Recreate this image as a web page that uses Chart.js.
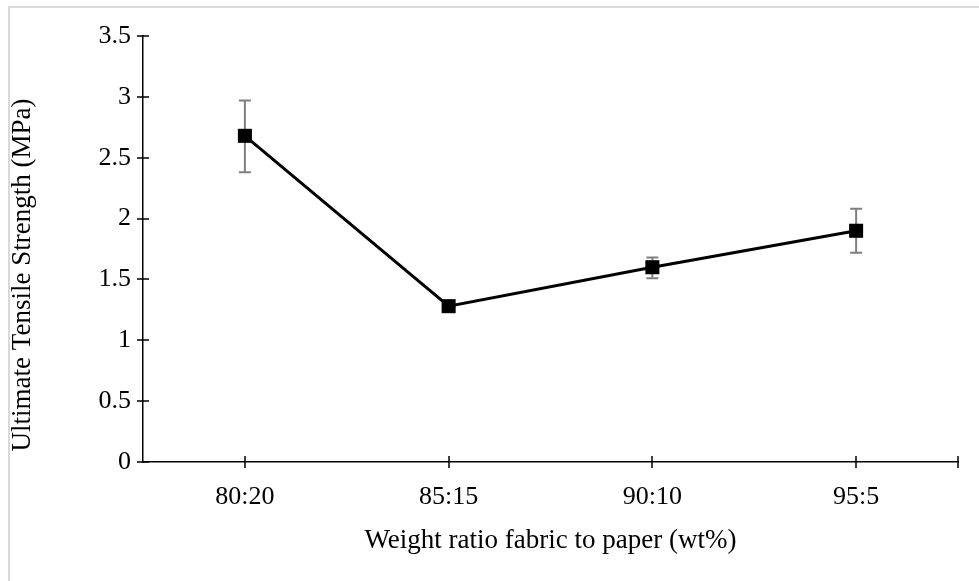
<!DOCTYPE html>
<html>
<head>
<meta charset="utf-8">
<script src="https://cdn.jsdelivr.net/npm/chart.js@4.4.1/dist/chart.umd.min.js"></script>
<style>
  html, body { margin: 0; padding: 0; background: #fff; }
  #wrap { position: relative; width: 979px; height: 581px; }
</style>
</head>
<body>
<div id="wrap"><canvas id="chart" width="979" height="581"></canvas></div>
<script>
const ratios = ['80:20', '85:15', '90:10', '95:5'];
const strength = [2.68, 1.28, 1.60, 1.90];
const errLow = [2.38, 1.26, 1.51, 1.72];
const errHigh = [2.97, 1.30, 1.68, 2.08];
const yTicks = [0, 0.5, 1, 1.5, 2, 2.5, 3, 3.5];
const yTitle = 'Ultimate Tensile Strength (MPa)';

const FONT = 'Liberation Serif, Times New Roman, serif';

// frame, error bars, y title and crossing tick marks like the excel original
const extras = {
  id: 'extras',
  beforeDraw(chart) {
    const ctx = chart.ctx;
    ctx.save();
    ctx.strokeStyle = '#d9d9d9';
    ctx.lineWidth = 2;
    ctx.beginPath();
    ctx.moveTo(9, 600);
    ctx.lineTo(9, 7);
    ctx.lineTo(1000, 7);
    ctx.stroke();
    ctx.restore();
  },
  afterDatasetsDraw(chart) {
    const ctx = chart.ctx;
    const x = chart.scales.x, y = chart.scales.y;
    ctx.save();
    ctx.strokeStyle = '#7f7f7f';
    ctx.lineWidth = 2;
    ctx.beginPath();
    ratios.forEach((_, i) => {
      const px = x.getPixelForValue(i);
      const top = y.getPixelForValue(errHigh[i]);
      const bot = y.getPixelForValue(errLow[i]);
      ctx.moveTo(px, top); ctx.lineTo(px, bot);
      ctx.moveTo(px - 6, top); ctx.lineTo(px + 6, top);
      ctx.moveTo(px - 6, bot); ctx.lineTo(px + 6, bot);
    });
    ctx.stroke();
    ctx.restore();
    // markers go back on top of the error bars
    const meta = chart.getDatasetMeta(0);
    ctx.save();
    ctx.fillStyle = '#000';
    meta.data.forEach(pt => {
      ctx.fillRect(pt.x - 7, pt.y - 7, 14, 14);
    });
    ctx.restore();
  },
  afterDraw(chart) {
    const ctx = chart.ctx;
    const x = chart.scales.x, y = chart.scales.y;
    const area = chart.chartArea;
    ctx.save();
    ctx.strokeStyle = '#000';
    ctx.lineWidth = 1.5;
    ctx.beginPath();
    yTicks.forEach(v => {
      const py = Math.round(y.getPixelForValue(v));
      ctx.moveTo(area.left - 6, py);
      ctx.lineTo(area.left + 6, py);
    });
    const xs = ratios.map((_, i) => x.getPixelForValue(i)).concat([area.right]);
    xs.forEach(px => {
      ctx.moveTo(Math.round(px), area.bottom - 6);
      ctx.lineTo(Math.round(px), area.bottom + 6);
    });
    ctx.stroke();

    // y title sits a bit lower than the plot centre in the original
    ctx.translate(23, 275);
    ctx.rotate(-Math.PI / 2);
    ctx.fillStyle = '#000';
    ctx.font = '27px ' + FONT;
    ctx.textAlign = 'center';
    ctx.textBaseline = 'middle';
    ctx.fillText(yTitle, 0, 0);
    ctx.restore();
  }
};

new Chart(document.getElementById('chart'), {
  type: 'line',
  data: {
    labels: ratios,
    datasets: [{
      data: strength,
      borderColor: '#000',
      borderWidth: 3,
      pointStyle: 'rect',
      pointRadius: 7,
      pointBackgroundColor: '#000',
      pointBorderColor: '#000',
      tension: 0
    }]
  },
  plugins: [extras],
  options: {
    responsive: false,
    animation: false,
    layout: { padding: { left: 8, top: 36, right: 21, bottom: 0 } },
    plugins: { legend: { display: false }, tooltip: { enabled: false } },
    scales: {
      x: {
        offset: true,
        grid: { display: false },
        border: { display: true, color: '#000', width: 1.5 },
        ticks: { color: '#000', font: { family: FONT, size: 26 }, padding: 12 },
        title: { display: true, text: 'Weight ratio fabric to paper (wt%)', color: '#000', font: { family: FONT, size: 27 }, padding: { top: 4, bottom: 24 } },
        afterFit(s) { s.height = 119; }
      },
      y: {
        min: 0, max: 3.5,
        afterBuildTicks(s) { s.ticks = yTicks.map(v => ({ value: v })); },
        grid: { display: false },
        border: { display: true, color: '#000', width: 1.5 },
        ticks: { color: '#000', font: { family: FONT, size: 26 }, padding: 4, callback: v => String(v) },
        afterFit(s) { s.width = 135; }
      }
    }
  }
});
</script>
</body>
</html>
